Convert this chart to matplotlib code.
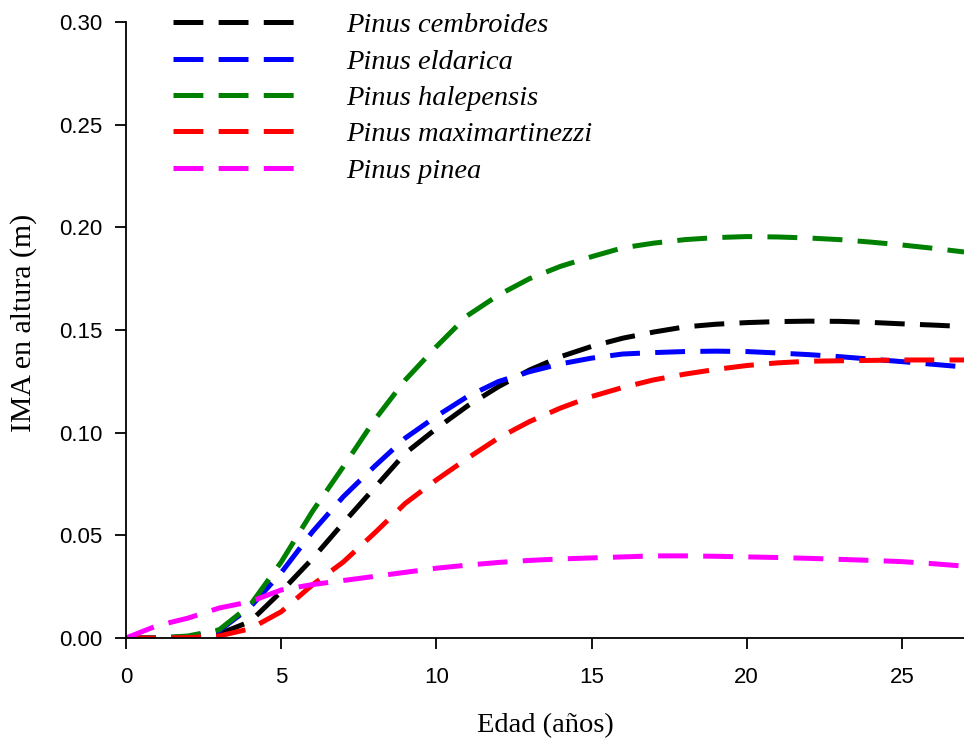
import numpy as np
import matplotlib
matplotlib.use("Agg")
import matplotlib.pyplot as plt

# edad (años)
edad = np.arange(0, 28)

# IMA en altura (m) at integer ages
cembroides = [0.0, 0.0, 0.0005, 0.002, 0.008, 0.0226, 0.0385, 0.056, 0.073, 0.090,
              0.102, 0.113, 0.1224, 0.1305, 0.137, 0.142, 0.146, 0.149, 0.1515, 0.1528,
              0.1536, 0.1541, 0.1543, 0.1542, 0.1537, 0.1530, 0.1524, 0.1517]
eldarica = [0.0, 0.0, 0.0007, 0.0035, 0.015, 0.0318, 0.0516, 0.0688, 0.0835, 0.0974,
            0.108, 0.1176, 0.1249, 0.1297, 0.1335, 0.1363, 0.1383, 0.139, 0.1395, 0.1397,
            0.1395, 0.1388, 0.1380, 0.137, 0.1358, 0.1346, 0.1333, 0.132]
halepensis = [0.0, 0.0, 0.001, 0.004, 0.016, 0.037, 0.0615, 0.0834, 0.106, 0.1257,
              0.1419, 0.157, 0.167, 0.175, 0.181, 0.1857, 0.190, 0.1923, 0.194, 0.195,
              0.1955, 0.1953, 0.1948, 0.194, 0.1928, 0.1914, 0.1898, 0.188]
maximartinezzi = [0.0, 0.0, 0.0002, 0.001, 0.0045, 0.0128, 0.0258, 0.037, 0.051, 0.0656,
                  0.077, 0.0875, 0.0974, 0.1054, 0.112, 0.1176, 0.122, 0.1257, 0.1285, 0.1308,
                  0.1327, 0.134, 0.1348, 0.135, 0.1352, 0.1354, 0.1354, 0.1354]
pinea = [0.0, 0.006, 0.0097, 0.0146, 0.0177, 0.0234, 0.026, 0.028, 0.030, 0.032,
         0.034, 0.0355, 0.0368, 0.0378, 0.0385, 0.039, 0.0395, 0.040, 0.040, 0.0398,
         0.0395, 0.0392, 0.0388, 0.0383, 0.0378, 0.0372, 0.0362, 0.035]

especies = ["Pinus cembroides", "Pinus eldarica", "Pinus halepensis",
            "Pinus maximartinezzi", "Pinus pinea"]
series = [cembroides, eldarica, halepensis, maximartinezzi, pinea]
colores = ["black", "blue", "green", "red", "magenta"]

plt.rcParams["lines.scale_dashes"] = False

fig = plt.figure(figsize=(9.64, 7.45), dpi=100)
ax = fig.add_axes([0.1307, 0.1436, 0.8693, 0.8269])

for y, c, lab in zip(series, colores, especies):
    ax.plot(edad, y, color=c, lw=3.6, dashes=(21.5, 11), label=lab,
            solid_capstyle="butt", dash_capstyle="butt")

ax.set_xlim(0, 27)
ax.set_ylim(0, 0.30)
ax.set_xticks([0, 5, 10, 15, 20, 25])
ax.set_yticks([0.0, 0.05, 0.10, 0.15, 0.20, 0.25, 0.30])
ax.set_yticklabels(["%.2f" % v for v in ax.get_yticks()])

for s in ["top", "right"]:
    ax.spines[s].set_visible(False)
for s in ["left", "bottom"]:
    ax.spines[s].set_linewidth(1.3)
    ax.spines[s].set_clip_on(False)

ax.tick_params(direction="out", length=8, width=1.3, labelsize=16)
ax.tick_params(axis="x", pad=13)
ax.tick_params(axis="y", pad=9)
for t in ax.get_xticklabels() + ax.get_yticklabels():
    t.set_fontfamily("Liberation Sans")

ax.set_xlabel("Edad (años)", family="Liberation Serif", fontsize=20.5)
ax.set_ylabel("IMA en altura (m)", family="Liberation Serif", fontsize=21.5)
ax.xaxis.set_label_coords(0.5, -0.122)
ax.yaxis.set_label_coords(-0.106, 0.511)

leg = ax.legend(loc="upper left", bbox_to_anchor=(0.056, 1.016), frameon=False,
                prop={"family": "Liberation Serif", "style": "italic", "size": 20.5},
                handlelength=4.35, handletextpad=1.75, labelspacing=0.37,
                borderpad=0, borderaxespad=0)

fig.savefig("out.png", dpi=100)
